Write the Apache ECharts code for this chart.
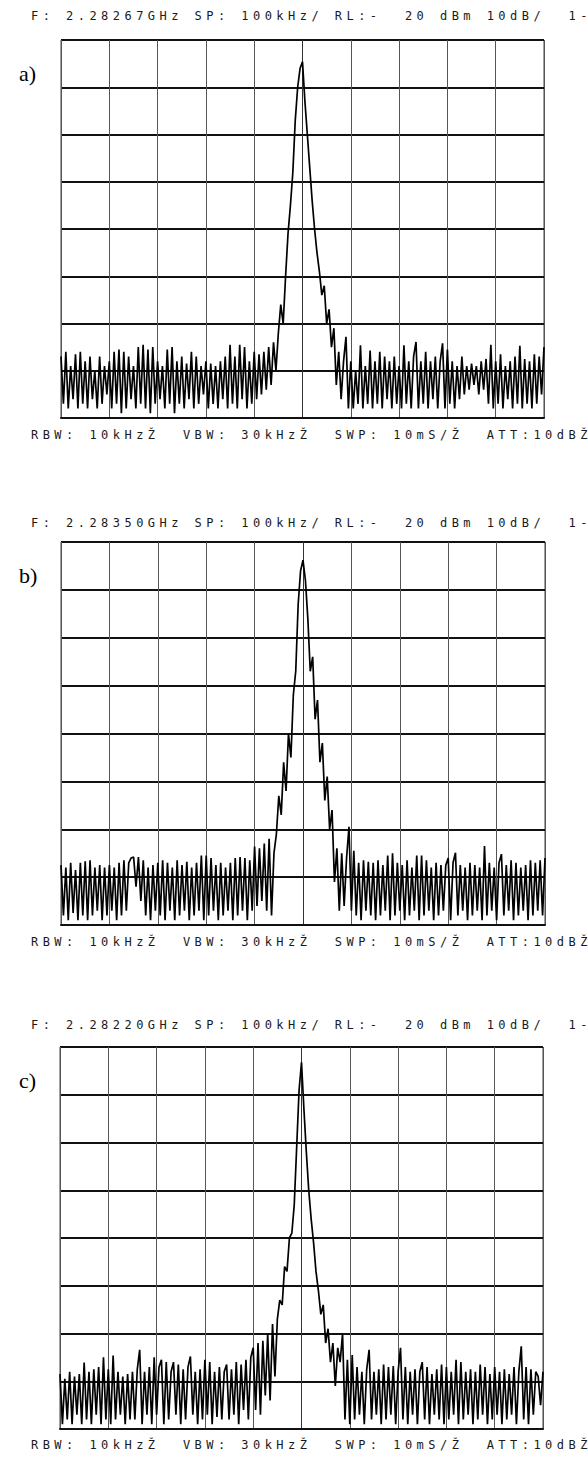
<!DOCTYPE html>
<html>
<head>
<meta charset="utf-8">
<script src="https://cdn.jsdelivr.net/npm/echarts/dist/echarts.min.js"></script>
<style>
  html, body { margin: 0; padding: 0; background: #fff; }
  #chart { width: 588px; height: 1458px; }
  #chart text { white-space: pre; }
</style>
</head>
<body>
<div id="chart"></div>
<script>
// sweep: 201 points, -500 .. +500 kHz around the centre frequency (SP 100kHz/div)
var startKHz = -500;
var stepKHz = 5;

var panelNames = ["a)", "b)", "c)"];
var headers = [
  "F: 2.28267GHz SP: 100kHz/ RL:-  20 dBm 10dB/  1-",
  "F: 2.28350GHz SP: 100kHz/ RL:-  20 dBm 10dB/  1-",
  "F: 2.28220GHz SP: 100kHz/ RL:-  20 dBm 10dB/  1-"
];
var footer = "RBW: 10kHzŽ  VBW: 30kHzŽ  SWP: 10mS/Ž  ATT:10dBŽ";

// trace levels in dBm
var traceA = [
  -87, -97, -86, -98, -89, -96, -86.5, -98, -86, -97,
  -88, -98, -87, -96, -90, -98, -87, -97, -89, -95,
  -88, -98, -86, -97, -85.5, -99, -86, -98, -87, -96,
  -89, -98, -85, -97, -84.5, -98, -85.5, -99, -85, -97,
  -88, -96, -89, -98, -85.5, -97, -85, -99, -88, -97,
  -87, -98, -88.5, -96, -86, -98, -87, -97, -89, -95,
  -88, -98, -88.5, -97, -89, -98, -88, -96, -87, -98,
  -84.5, -97, -87, -98, -84.5, -96, -85, -98, -88, -97,
  -86, -96, -86.5, -95, -86, -94, -85, -93, -84, -90,
  -82, -76, -80, -70, -61, -55, -48, -37, -30, -26,
  -24.6, -33, -40, -47, -54, -60, -65, -69, -74, -72,
  -80, -77, -85, -81, -93, -86, -96, -88, -82.8, -98,
  -88, -98, -90, -97, -84.6, -98, -89, -97, -85.7, -98,
  -88, -97, -86, -98, -87, -96, -88, -98, -87, -97,
  -89, -98, -84.6, -97, -88, -98, -87, -83.9, -98, -88,
  -97, -86, -98, -88, -96, -87, -98, -88, -84.2, -98,
  -85.5, -97, -88, -98, -89, -96, -87, -95, -89, -94,
  -88.5, -93, -89, -95, -88, -94, -87.5, -97, -84.5, -98,
  -88, -97, -86.5, -98, -89, -96, -88, -98, -87, -97,
  -84.7, -98, -87.5, -97, -88, -98, -86.5, -97, -87, -95,
  -85
];
var traceB = [
  -87.5, -98, -88, -99, -87, -97.5, -88.5, -99, -87, -98,
  -86.7, -99, -86.5, -98, -88, -97, -87.5, -99, -88, -98,
  -87.5, -97, -88, -99, -87, -98, -86.5, -97, -87, -86,
  -85.8, -92, -85.8, -95, -86.5, -98, -88, -99, -87.5, -97,
  -87, -98, -86.5, -99, -87, -97, -88, -99, -86.5, -98,
  -87.5, -97, -86.8, -99, -88, -98, -87, -97, -85.5, -99,
  -85.5, -98, -86, -97, -87.5, -99, -87, -98, -88, -97,
  -87, -99, -86, -98, -85.8, -97, -86, -99, -86.5, -97,
  -83.6, -96, -84, -95, -83, -97, -82, -98, -85, -81,
  -73, -77, -66, -72, -60, -65, -52, -47, -33, -26,
  -23.8, -28, -36, -47, -44, -57, -53, -66, -62, -74,
  -69, -80, -76, -91, -84, -97, -85, -96, -86, -79.5,
  -97, -84.5, -98, -87, -99, -86.5, -97, -86.8, -98, -87,
  -99, -86.5, -98, -87.5, -97, -85.5, -99, -85, -98, -87,
  -97, -87.5, -99, -86.5, -98, -88, -97, -85.5, -99, -85.5,
  -98, -86.5, -97, -88, -99, -87, -98, -87.5, -97, -87.5,
  -86, -99, -87, -84.9, -98, -87.5, -97, -88, -99, -87,
  -98, -87.5, -97, -88, -99, -83.5, -98, -87, -97, -88,
  -99, -87, -85.2, -98, -87.5, -97, -86.5, -99, -87, -98,
  -88, -97, -87.5, -99, -86.5, -98, -87, -97, -86.5, -98,
  -86
];
var traceC = [
  -88.5, -99, -89.5, -98, -88, -99, -89, -97, -88.5, -99,
  -86.1, -98, -88, -99, -87.5, -97, -87, -99, -85, -98,
  -87.5, -99, -84.6, -98, -88, -97, -89, -99, -88.5, -98,
  -88, -98, -87.5, -83.4, -99, -88, -97, -87, -99, -85,
  -97, -87, -85.5, -99, -86, -98, -88, -86, -97, -86.5,
  -99, -87.5, -98, -87, -84.8, -97, -88, -99, -87.5, -98,
  -85.5, -97, -86, -99, -88, -97.5, -87, -98, -88, -86.5,
  -98, -87.5, -97, -86, -99, -86.5, -96, -85.5, -98, -85,
  -83, -96, -82, -97, -81.5, -93, -80, -94, -78, -89,
  -77, -73, -74, -66, -67, -60, -59, -53, -41, -29,
  -23.2, -33, -42, -50, -56, -61, -67, -71, -76, -74,
  -82, -79, -86, -82, -91, -83, -86, -80, -98, -85.5,
  -99, -84.5, -98, -87, -97, -88, -99, -87.5, -83.4, -98,
  -88, -97, -87.5, -99, -86.5, -98, -87, -97, -86.8, -99,
  -88, -83, -98, -87, -99, -88, -97, -87.5, -99, -88,
  -86, -98, -87, -99, -88.5, -97, -87.5, -98, -86.5, -99,
  -87, -98, -88, -97, -85.5, -99, -86, -98, -88, -97,
  -87.5, -99, -88, -98, -86.5, -97, -87, -99, -88.5, -98,
  -87, -97, -88, -99, -87.5, -98, -88.5, -97, -87, -99,
  -88, -82.7, -98, -87, -99, -87.5, -97, -88, -89, -95,
  -88
];
var traces = [traceA, traceB, traceC];

var grids = [
  { left: 61, top: 40, width: 483, height: 378 },
  { left: 61, top: 542, width: 484, height: 383 },
  { left: 60, top: 1047, width: 483, height: 382 }
];
var headerY = [16, 523, 1025];
var footerY = [435, 942, 1445];

function toPoints(vals) {
  return vals.map(function (v, i) {
    return [startKHz + i * stepKHz, v];
  });
}

var monoFont = '12px "DejaVu Sans Mono"';
var option = {
  animation: false,
  backgroundColor: "#fff",
  grid: [],
  xAxis: [],
  yAxis: [],
  series: [],
  graphic: []
};

for (var i = 0; i < 3; i++) {
  option.grid.push({
    left: grids[i].left,
    top: grids[i].top,
    width: grids[i].width,
    height: grids[i].height,
    show: true,
    borderColor: "#444",
    borderWidth: 1
  });
  option.xAxis.push({
    type: "value",
    gridIndex: i,
    min: -500,
    max: 500,
    interval: 100,
    axisLabel: { show: false },
    axisTick: { show: false },
    axisLine: { show: true, lineStyle: { color: "#111", width: 2 } },
    splitLine: { show: true, lineStyle: { color: "#555", width: 1 } }
  });
  option.yAxis.push({
    type: "value",
    gridIndex: i,
    min: -100,
    max: -20,
    interval: 10,
    axisLabel: { show: false },
    axisTick: { show: false },
    axisLine: { show: true, lineStyle: { color: "#333", width: 1 } },
    splitLine: { show: true, lineStyle: { color: "#111", width: 2 } }
  });
  option.series.push({
    type: "line",
    xAxisIndex: i,
    yAxisIndex: i,
    data: toPoints(traces[i]),
    symbol: "none",
    z: 3,
    lineStyle: { color: "#000", width: 1.7, join: "bevel" }
  });
  option.graphic.push(
    {
      type: "text",
      x: 31,
      y: headerY[i],
      style: { text: headers[i], font: monoFont, fill: "#1a1a1a", verticalAlign: "middle" }
    },
    {
      type: "text",
      x: 31,
      y: footerY[i],
      style: { text: footer, font: monoFont, fill: "#1a1a1a", verticalAlign: "middle" }
    },
    {
      type: "text",
      x: 19,
      y: grids[i].top + 33,
      style: { text: panelNames[i], font: '22px "Liberation Serif"', fill: "#000", verticalAlign: "middle" }
    }
  );
}

var myChart = echarts.init(document.getElementById("chart"), null, { renderer: "svg" });
myChart.setOption(option);

// the analyser font is widely spaced: push every glyph after the first
function spaceOut() {
  var list = document.querySelectorAll("#chart text");
  for (var k = 0; k < list.length; k++) {
    var s = list[k].textContent;
    if (s.indexOf("F:") === 0 || s.indexOf("RBW") === 0) {
      var dx = ["0"];
      for (var c = 1; c < s.length; c++) dx.push("4.45");
      list[k].setAttribute("dx", dx.join(" "));
    }
  }
}
spaceOut();
myChart.on("finished", spaceOut);
</script>
</body>
</html>
